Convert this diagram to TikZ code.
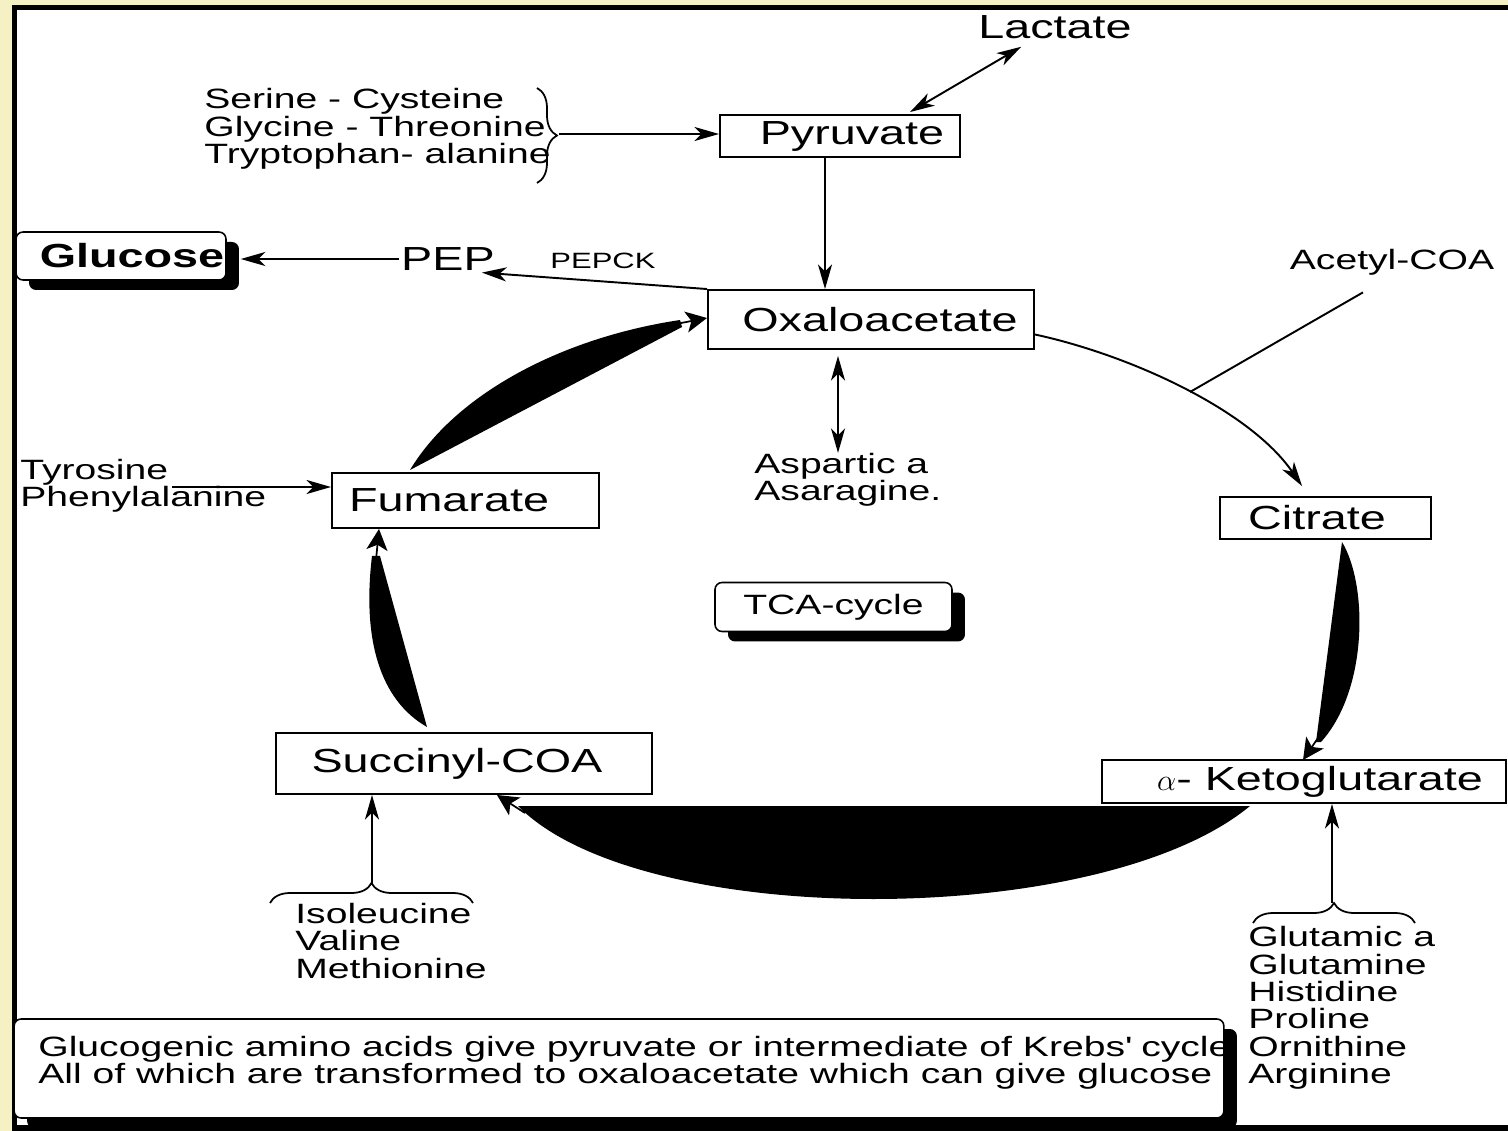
\documentclass[tikz,border=0pt]{standalone}
\usepackage{fontspec}
\setmainfont{Liberation Sans}[FakeStretch=1.4]
\usetikzlibrary{arrows.meta, decorations.pathreplacing, shadows}

\definecolor{bgyellow}{RGB}{246,241,196}

\tikzset{
  box/.style={draw, line width=1.1pt, inner sep=0pt, font=\fontsize{19}{21}\selectfont},
  shbox/.style={draw, line width=0.9pt, rounded corners=4pt, fill=white, inner sep=0pt,
    drop shadow={shadow xshift=0.26cm, shadow yshift=-0.2cm, fill=black, opacity=1}},
  lbl/.style={inner sep=1pt, font=\fontsize{19}{21}\selectfont},
  list/.style={inner sep=0pt, align=left, font=\fontsize{15.9}{15.6}\selectfont},
  arr/.style={-{Stealth[length=14pt,width=8pt,inset=4pt]}, line width=1.1pt},
  darr/.style={{Stealth[length=14pt,width=8pt,inset=4pt]}-{Stealth[length=14pt,width=8pt,inset=4pt]}, line width=1.1pt},
  wedgehead/.style={-{Stealth[length=12pt,width=12pt,inset=3pt]}, line width=1pt},
  brc/.style={decorate, decoration={brace, amplitude=0.4cm}, line width=1pt}
}

\begin{document}
\begin{tikzpicture}[x=0.02cm, y=-0.02cm]
    \useasboundingbox (0,0) rectangle (1508,1131);
    \fill[bgyellow] (0,0) rectangle (1508,1131);
    \filldraw[fill=white, draw=black, line width=2.9pt] (14.5,7.5) rectangle (1520,1128);

    % cycle boxes
    \node[box, minimum width=4.8cm, minimum height=0.84cm] (pyr) at (840,136) {\hspace*{0.48cm}Pyruvate};
    \node[box, minimum width=6.52cm, minimum height=1.18cm] (oaa) at (871,319.5) {\hspace*{0.36cm}Oxaloacetate};
    \node[box, minimum width=4.22cm, minimum height=0.84cm] (cit) at (1325.5,518) {Citrate\hspace*{0.34cm}};
    \node[box, minimum width=8.08cm, minimum height=0.86cm] (akg) at (1304,781.5) {\hspace*{0.64cm}$\alpha$- Ketoglutarate};
    \node[box, minimum width=7.52cm, minimum height=1.22cm] (sucoa) at (464,763.5) {Succinyl-COA\hspace*{0.28cm}};
    \node[box, minimum width=5.34cm, minimum height=1.1cm] (fum) at (465.5,500.5) {Fumarate\hspace*{0.66cm}};

    \node[shbox, minimum width=4.2cm, minimum height=0.96cm, font=\fontsize{19}{21}\selectfont\bfseries] (glc) at (121,256) {\hspace*{0.44cm}Glucose};
    \node[shbox, minimum width=4.74cm, minimum height=0.98cm, font=\fontsize{15.9}{17}\selectfont] (tca) at (833.5,607) {TCA-cycle};
    \node[shbox, minimum width=24.2cm, minimum height=1.98cm] (note) at (619,1068.5) {};

    % labels
    \node[lbl] (lac) at (1055,27) {Lactate};
    \node[lbl] (pep) at (448,259) {PEP};
    \node[inner sep=1pt, font=\fontsize{12.6}{14}\selectfont] (pepck) at (603,261) {PEPCK};
    \node[list] (acoa) at (1392,262) {Acetyl-COA};
    \node[list, anchor=west] (ser) at (204,129) {Serine - Cysteine\\Glycine - Threonine\\Tryptophan- alanine};
    \node[list, anchor=west] (tyr) at (20,486) {Tyrosine\\Phenylalanine};
    \node[list, anchor=west] (asp) at (754,480) {Aspartic a\\Asaragine.};
    \node[list, anchor=west] (iso) at (295,941) {Isoleucine\\Valine\\Methionine};
    \node[list, anchor=west] (glu) at (1248,1008) {Glutamic a\\Glutamine\\Histidine\\Proline\\Ornithine\\Arginine};
    \node[list, anchor=west] (notetxt) at (38,1063) {Glucogenic amino acids give pyruvate or intermediate of Krebs\textquotesingle{} cycle\\All of which are transformed to oxaloacetate which can give glucose};

    % plain arrows
    \coordinate (glcedge) at ([xshift=0.28cm]glc.east);
    \coordinate (sertip) at (559,134);
    \coordinate (tyrend) at (172,487);
    \coordinate (isotip) at (372,883);
    \coordinate (glutip) at (1332,903);
    \coordinate (acin) at (1190,392);

    \draw[darr] ([xshift=1.4cm,yshift=0.04cm]pyr.north) -- ([xshift=0.9cm,yshift=-0.12cm]lac.south west);
    \draw[arr] ([xshift=-0.3cm]pyr.south) -- ([xshift=-0.3cm]pyr.south |- oaa.north);
    \draw[arr] (oaa.north west) -- ([xshift=-0.3cm]pep.south east);
    \draw[arr] (pep.west) -- (pep.west -| glcedge);
    \draw[brc] (537,88) -- (537,183);
    \draw[arr] (sertip) -- (sertip -| pyr.west);
    \draw[arr] (tyrend) -- (tyrend -| fum.west);
    \draw[brc] (270,903) -- (473,903);
    \draw[arr] (isotip) -- (isotip |- sucoa.south);
    \draw[brc] (1253,923) -- (1415,923);
    \draw[arr] (glutip) -- (glutip |- akg.south);
    \draw[darr] ([xshift=-0.66cm,yshift=-0.12cm]oaa.south) -- ([xshift=-0.66cm]oaa.south |- asp.north);
    \draw[line width=1.1pt] ([xshift=-0.58cm,yshift=-0.34cm]acoa.south) -- (acin);
    \draw[arr] ([yshift=-0.3cm]oaa.east) .. controls (1130,355) and (1250,410) .. ([xshift=-0.47cm,yshift=0.2cm]cit.north);

    % wedge arrows of the cycle
    \fill (1342,542) .. controls (1368,585) and (1368,690) .. (1321,742) -- (1316,742) -- cycle;
    \draw[wedgehead] (1318,738) -- (1303,760);
    \fill (1250,806) -- (518,806) .. controls (640,930) and (1100,930) .. (1250,806) -- cycle;
    \draw[wedgehead] (525,813) -- (497,795);
    \fill (427,727) .. controls (380,700) and (362,640) .. (372,556) -- (380,556) -- cycle;
    \draw[wedgehead] (376,560) -- (379,529);
    \fill (410,470) .. controls (455,395) and (560,338) .. (680,320) -- (682,327) -- cycle;
    \draw[wedgehead] (676,324) -- (707,318);

\end{tikzpicture}
\end{document}
